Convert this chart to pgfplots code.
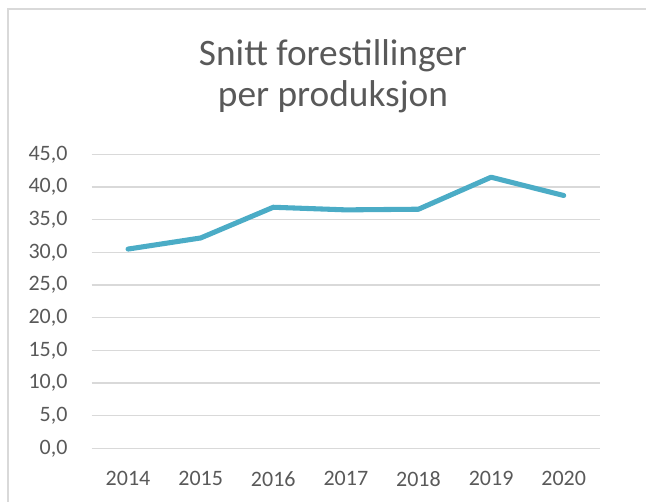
\documentclass[border=0pt]{standalone}
\usepackage{fontspec}
\setmainfont{Carlito}
\usepackage{pgfplots}
\pgfplotsset{compat=1.18}
\definecolor{txt}{HTML}{595959}
\definecolor{grd}{HTML}{D9D9D9}
\definecolor{ln}{HTML}{4BACC6}
\begin{document}
\begin{tikzpicture}
\path[use as bounding box] (0pt,0pt) rectangle (484.5pt,375.75pt);
\draw[grd, line width=1.1pt] (6pt,-20pt) -- (6pt,369pt) -- (500pt,369pt);
\node[anchor=base, text=txt, font=\fontsize{28}{32}\selectfont] at (249.75pt,326.25pt) {Snitt forestillinger};
\node[anchor=base, text=txt, font=\fontsize{28}{32}\selectfont] at (249.75pt,295.5pt) {per produksjon};
\begin{axis}[
  at={(68.8pt,39.5pt)}, anchor=south west,
  scale only axis, width=381.2pt, height=220.5pt,
  xmin=-0.5, xmax=6.5, ymin=0, ymax=45,
  xtick={0,...,6}, xticklabels={2014,2015,2016,2017,2018,2019,2020},
  ytick={0,5,...,45},
  axis line style={draw=none},
  major tick length=0pt,
  ymajorgrids, grid style={grd, line width=1.1pt},
  tick label style={text=txt, font=\fontsize{16.5}{19}\selectfont, inner sep=0pt},
  yticklabel style={anchor=east, xshift=-18pt},
  xticklabel style={anchor=north, yshift=-17pt},
  /pgf/number format/.cd, fixed, fixed zerofill, precision=1, use comma, assume math mode=true,
]
\addplot[ln, line width=3.8pt, line cap=round, line join=round] coordinates {
  (0,30.5) (1,32.2) (2,36.9) (3,36.5) (4,36.6) (5,41.5) (6,38.7)
};
\end{axis}
\end{tikzpicture}
\end{document}
